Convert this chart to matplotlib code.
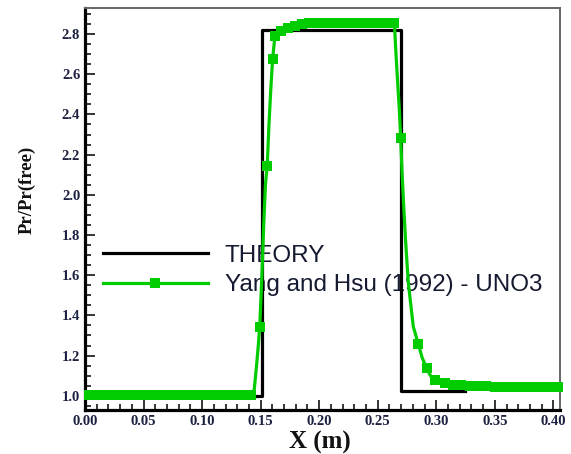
import matplotlib
matplotlib.use("Agg")
import matplotlib.pyplot as plt
import numpy as np

# exact solution (step profile)
theory_x = [0.0, 0.1510, 0.1510, 0.2700, 0.2700, 0.3245]
theory_y = [1.0, 1.0, 2.82, 2.82, 1.022, 1.022]

# UNO3 solution, Yang and Hsu (1992); uno3_mark = 1 where a symbol is drawn
uno3_x = [0.003, 0.010, 0.017, 0.024, 0.031, 0.039, 0.046, 0.053, 0.060, 0.067,
          0.074, 0.081, 0.088, 0.095, 0.102, 0.109, 0.117, 0.124, 0.131, 0.138,
          0.142,
          0.1445, 0.1465, 0.1480, 0.1492, 0.1511, 0.1526, 0.1541, 0.1556, 0.1571,
          0.1587, 0.1602, 0.1622, 0.1673, 0.1734, 0.1794, 0.1855, 0.1916,
          0.1977, 0.2048, 0.2119, 0.2190, 0.2261, 0.2332, 0.2403, 0.2474, 0.2545,
          0.2595, 0.2642,
          0.2656, 0.2671, 0.2685, 0.2696, 0.2707, 0.2719, 0.2737, 0.2750, 0.2762,
          0.2783, 0.2804, 0.2847, 0.2879, 0.2918, 0.2950, 0.2990, 0.3031, 0.3075,
          0.3143, 0.3214, 0.3285, 0.3356, 0.3427, 0.3498, 0.3569, 0.3640, 0.3711,
          0.3782, 0.3853, 0.3924, 0.3995, 0.4040]
uno3_y = [1.003, 1.003, 1.003, 1.003, 1.003, 1.003, 1.003, 1.003, 1.003, 1.003,
          1.003, 1.003, 1.003, 1.003, 1.003, 1.003, 1.003, 1.003, 1.003, 1.003,
          1.003,
          1.03, 1.15, 1.25, 1.343, 1.60, 1.85, 2.05, 2.143, 2.35,
          2.53, 2.674, 2.79, 2.815, 2.830, 2.840, 2.848, 2.853,
          2.855, 2.855, 2.855, 2.855, 2.855, 2.855, 2.855, 2.855, 2.855,
          2.855, 2.855,
          2.70, 2.55, 2.42, 2.281, 2.12, 1.974, 1.78, 1.66, 1.56,
          1.45, 1.343, 1.257, 1.19, 1.136, 1.10, 1.078, 1.068, 1.062,
          1.055, 1.052, 1.050, 1.048, 1.046, 1.045, 1.045, 1.044, 1.044,
          1.044, 1.044, 1.044, 1.044, 1.044]
uno3_mark = [1] * 21 + \
            [0, 0, 0, 1, 0, 0, 0, 1, 0, 0, 1, 1, 1, 1, 1, 1, 1] + \
            [1] * 11 + \
            [0, 0, 0, 1, 0, 0, 0, 0, 0, 0, 0, 1, 0, 1, 0, 1, 0, 1] + \
            [1] * 14

serif = "Liberation Serif"
tick_color = "#1c2140"

fig = plt.figure(figsize=(5.71, 4.54), dpi=100)
ax = fig.add_axes([0.1489, 0.0969, 0.8319, 0.8848])

ax.plot(theory_x, theory_y, color="black", lw=2.3, zorder=3, label="THEORY")
ax.plot(uno3_x, uno3_y, color="#00cc00", lw=2.3, marker="s", ms=7.8, mew=0,
        markevery=[m == 1 for m in uno3_mark], clip_on=False, zorder=4,
        label="Yang and Hsu (1992) - UNO3")

ax.set_xlim(0.0, 0.4057)
ax.set_ylim(0.929, 2.928)
ax.set_xticks(np.arange(0.0, 0.401, 0.05))
ax.set_xticks(np.arange(0.0, 0.401, 0.01), minor=True)
ax.set_yticks(np.arange(1.0, 2.81, 0.2))
ax.set_yticks(np.arange(0.95, 2.91, 0.05), minor=True)
ax.xaxis.set_major_formatter(matplotlib.ticker.FormatStrFormatter("%.2f"))
ax.yaxis.set_major_formatter(matplotlib.ticker.FormatStrFormatter("%.1f"))

ax.tick_params(which="both", direction="in", top=False, right=False,
               width=1.1, color="black")
ax.tick_params(which="major", length=7.5)
ax.tick_params(which="minor", length=4)
for lab in ax.get_xticklabels() + ax.get_yticklabels():
    lab.set_fontfamily(serif)
    lab.set_fontweight("bold")
    lab.set_fontsize(10.5)
    lab.set_color(tick_color)

for side in ["left", "bottom"]:
    ax.spines[side].set_linewidth(2.3)
    ax.spines[side].set_color("black")
for side in ["top", "right"]:
    ax.spines[side].set_linewidth(1.4)
    ax.spines[side].set_color("#666666")

fig.text(320 / 571, 1 - 442 / 454, "X (m)", family=serif, weight="bold",
         fontsize=18, color="#111111", ha="center", va="center")
fig.text(27 / 571, 1 - 190 / 454, "Pr/Pr(free)", family=serif, weight="bold",
         fontsize=13.5, color="#111111", ha="center", va="center", rotation=90)

leg = ax.legend(loc="center left", bbox_to_anchor=(0.038, 0.347),
                frameon=False, borderpad=0, borderaxespad=0,
                handlelength=4.3, handletextpad=0.7, labelspacing=0.3,
                prop={"family": "Liberation Sans", "size": 17.5})
for t in leg.get_texts():
    t.set_color("#151a30")
leg.set_zorder(1)

fig.savefig("out.png", dpi=100)
